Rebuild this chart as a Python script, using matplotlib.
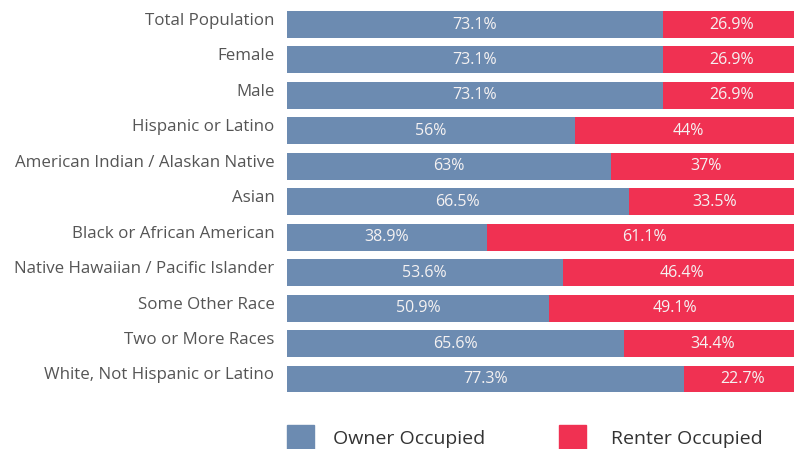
import matplotlib.pyplot as plt
import matplotlib.transforms as mtransforms
from matplotlib.patches import Rectangle

categories = [
    "Total Population", "Female", "Male", "Hispanic or Latino",
    "American Indian / Alaskan Native", "Asian", "Black or African American",
    "Native Hawaiian / Pacific Islander", "Some Other Race",
    "Two or More Races", "White, Not Hispanic or Latino",
]
owner = [73.1, 73.1, 73.1, 56, 63, 66.5, 38.9, 53.6, 50.9, 65.6, 77.3]
renter = [26.9, 26.9, 26.9, 44, 37, 33.5, 61.1, 46.4, 49.1, 34.4, 22.7]
owner_labels = ["73.1%", "73.1%", "73.1%", "56%", "63%", "66.5%", "38.9%",
                "53.6%", "50.9%", "65.6%", "77.3%"]
renter_labels = ["26.9%", "26.9%", "26.9%", "44%", "37%", "33.5%", "61.1%",
                 "46.4%", "49.1%", "34.4%", "22.7%"]

blue = "#6c8bb1"
red = "#f03152"
gray = "#555555"
plt.rcParams['font.family'] = ['Open Sans', 'DejaVu Sans']

fig = plt.figure(figsize=(7.94, 4.49), dpi=100)
ax = fig.add_axes([287 / 794, 1 - 396.7 / 449, 514 / 794, 389.9 / 449])

y = list(range(len(categories)))
b1 = ax.barh(y, owner, height=0.76, color=blue)
b2 = ax.barh(y, renter, left=owner, height=0.76, color=red)
ax.bar_label(b1, labels=owner_labels, label_type='center', color="#f5f2f2", fontsize=11.5)
ax.bar_label(b2, labels=renter_labels, label_type='center', color="#f5f2f2", fontsize=11.5)

ax.set_xlim(0, 100)
ax.set_ylim(len(categories) - 0.5, -0.5)
ax.set_yticks(y)
ax.set_yticklabels(categories, fontsize=12.2, color=gray)
ax.tick_params(axis='y', length=0, pad=9)
# nudge category labels up a little, as in the reference
shift = mtransforms.ScaledTranslation(0, 4 / 72, fig.dpi_scale_trans)
for lbl in ax.get_yticklabels():
    lbl.set_transform(lbl.get_transform() + shift)
ax.set_xticks([])
for s in ax.spines.values():
    s.set_visible(False)

# legend
H = 449
fig.add_artist(Rectangle((287 / 794, 1 - 452 / H), 27 / 794, 27 / H,
                         transform=fig.transFigure, color=blue, clip_on=False))
fig.add_artist(Rectangle((559 / 794, 1 - 452 / H), 27 / 794, 27 / H,
                         transform=fig.transFigure, color=red, clip_on=False))
fig.text(333 / 794, 1 - 439 / H, "Owner Occupied", fontsize=14, color="#333333", va='center')
fig.text(611 / 794, 1 - 439 / H, "Renter Occupied", fontsize=14, color="#333333", va='center')

fig.savefig("out.png", dpi=100)
